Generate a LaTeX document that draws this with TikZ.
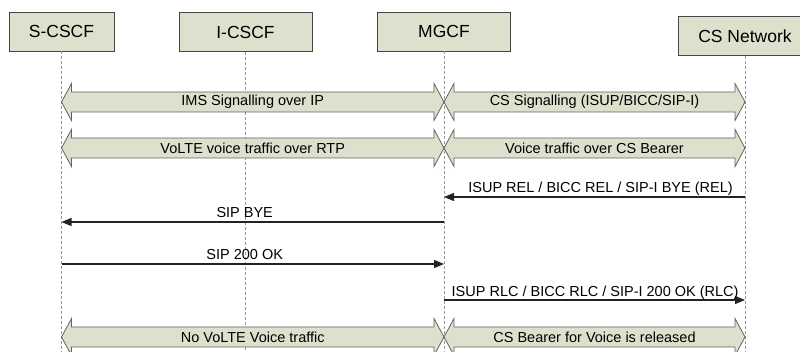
\documentclass[tikz,border=0pt]{standalone}
\usepackage{fontspec}
\setmainfont{Liberation Sans}
\usetikzlibrary{calc,arrows.meta}
\definecolor{boxfill}{RGB}{220,224,204}
\definecolor{edgecol}{RGB}{70,70,70}
\definecolor{lifecol}{RGB}{150,150,150}
\definecolor{msgcol}{RGB}{35,35,35}
\tikzset{
  actor/.style={draw=edgecol, fill=boxfill, line width=0.9pt, minimum height=39pt, inner sep=0pt,
    font=\fontsize{17.5}{20}\selectfont, text=black},
  lifeline/.style={draw=lifecol, line width=0.7pt, dash pattern=on 3pt off 2pt},
  blk/.style={draw=edgecol!85, fill=boxfill, line width=0.8pt, line join=miter},
  blklbl/.style={font=\fontsize{14.5}{17}\selectfont, text=black, inner sep=0pt},
  msg/.style={draw=msgcol, line width=1.2pt, -{Triangle[length=10pt,width=8pt]}},
  msglbl/.style={font=\fontsize{14.5}{17}\selectfont, text=black, inner sep=0pt, anchor=base, yshift=4pt}
}
\newcommand\blockarrow[3]{%
  \draw[blk] (#1) -- ($(#1)+(10,-18.5)$) -- ($(#1)+(10,-10)$) -- ($(#2)+(-10,-10)$) -- ($(#2)+(-10,-18.5)$)
    -- (#2) -- ($(#2)+(-10,18.5)$) -- ($(#2)+(-10,10)$) -- ($(#1)+(10,10)$) -- ($(#1)+(10,18.5)$) -- cycle;
  \node[blklbl] at ($(#1)!0.5!(#2)$) {#3};}
\begin{document}
\begin{tikzpicture}[x=1pt,y=-1pt]
\useasboundingbox (0,0) rectangle (800,352);
% actors
\node[actor, minimum width=105pt] (scscf) at (61.5,31.5) {S-CSCF};
\node[actor, minimum width=133pt] (icscf) at (245.5,32) {I-CSCF};
\node[actor, minimum width=133pt] (mgcf) at (444,31.5) {MGCF};
\node[actor, minimum width=134pt] (csn) at (745,36) {CS Network};
% lifeline ends
\coordinate (scscfE) at (61.5,352);
\coordinate (icscfE) at (245.5,352);
\coordinate (mgcfE) at (444,352);
\coordinate (csnE) at (745,352);
\draw[lifeline] (scscf.south) -- (scscfE);
\draw[lifeline] (icscf.south) -- (icscfE);
\draw[lifeline] (mgcf.south) -- (mgcfE);
\draw[lifeline] (csn.south) -- (csnE);
% block arrows
\coordinate (a1L) at (61.5,102); \coordinate (a1M) at (444,102); \coordinate (a1R) at (745,102);
\coordinate (a2L) at (61.5,148); \coordinate (a2M) at (444,148); \coordinate (a2R) at (745,148);
\coordinate (a3L) at (61.5,337); \coordinate (a3M) at (444,337); \coordinate (a3R) at (745,337);
\blockarrow{a1L}{a1M}{IMS Signalling over IP}
\blockarrow{a1M}{a1R}{CS Signalling (ISUP/BICC/SIP-I)}
\blockarrow{a2L}{a2M}{VoLTE voice traffic over RTP}
\blockarrow{a2M}{a2R}{Voice traffic over CS Bearer}
\blockarrow{a3L}{a3M}{No VoLTE Voice traffic}
\blockarrow{a3M}{a3R}{CS Bearer for Voice is released}
% messages
\coordinate (m1s) at (745,197); \coordinate (m1e) at (444,197);
\coordinate (m2s) at (444,222); \coordinate (m2e) at (61.5,222);
\coordinate (m3s) at (61.5,264); \coordinate (m3e) at (444,264);
\coordinate (m4s) at (444,300); \coordinate (m4e) at (745,300);
\draw[msg] (m1s) -- (m1e) node[msglbl, pos=0.48] {ISUP REL / BICC REL / SIP-I BYE (REL)};
\draw[msg] (m2s) -- (m2e) node[msglbl, pos=0.521] {SIP BYE};
\draw[msg] (m3s) -- (m3e) node[msglbl, pos=0.479] {SIP 200 OK};
\draw[msg] (m4s) -- (m4e) node[msglbl, pos=0.502, yshift=-1pt] {ISUP RLC / BICC RLC / SIP-I 200 OK (RLC)};
\end{tikzpicture}
\end{document}
